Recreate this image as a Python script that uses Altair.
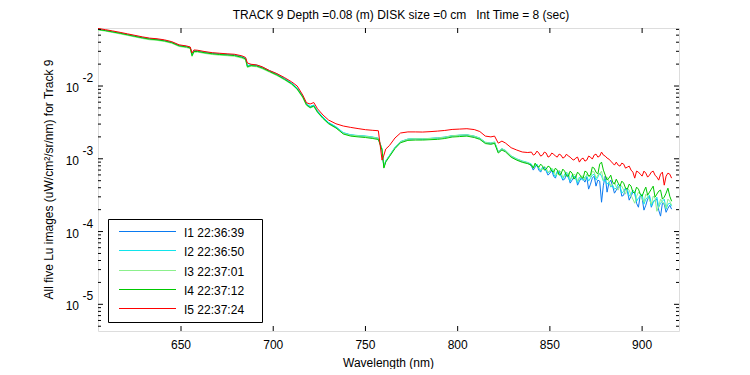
import altair as alt
import pandas as pd

FONT = "Liberation Sans"

# ---------------- data ----------------
wavelength = [605, 609, 613, 617, 621, 625, 629, 633, 637, 641, 645, 649, 653, 655, 656,
              657, 659, 663, 667, 671, 675, 679, 683, 685, 686, 688, 691, 694, 698, 702,
              706, 710, 713, 716, 718, 720, 722, 724, 727, 730, 734, 738, 742, 746, 750,
              754, 757, 759, 760, 761, 763, 766, 769, 773, 777, 781, 785, 789, 793, 797,
              801, 805, 809, 812, 815, 818, 820, 822, 824, 826, 829, 832, 835, 838] + list(range(840, 917))

i1 = [0.0601, 0.0579, 0.0556, 0.0534, 0.0508, 0.0486, 0.0462, 0.0446, 0.0436, 0.0420,
      0.0398, 0.0360, 0.0349, 0.0337, 0.0266, 0.0303, 0.0302, 0.0291, 0.0281, 0.0276,
      0.0271, 0.0267, 0.0252, 0.0240, 0.0188, 0.0195, 0.0192, 0.0180, 0.0161, 0.0145,
      0.0127, 0.0109, 0.00930, 0.00722, 0.00566, 0.00519, 0.00542, 0.00450, 0.00368, 0.00312,
      0.00272, 0.00226, 0.00212, 0.00207, 0.00203, 0.00197, 0.00190, 0.00135, 0.000770, 0.000925,
      0.00110, 0.00142, 0.00171, 0.00185, 0.00188, 0.00186, 0.00190, 0.00192, 0.00197, 0.00206,
      0.00210, 0.00212, 0.00203, 0.00190, 0.00167, 0.00162, 0.00168, 0.00124, 0.00136, 0.00128,
      0.00108, 0.000985, 0.000918, 0.000874,
      7.93e-4, 6.99e-4, 7.68e-4, 8.19e-4, 6.99e-4, 6.56e-4, 7.44e-4, 7.68e-4, 6.77e-4, 5.96e-4,
      6.35e-4, 6.99e-4, 5.78e-4, 5.42e-4, 6.56e-4, 6.77e-4, 5.96e-4, 5.09e-4, 5.25e-4, 6.15e-4,
      5.78e-4, 4.63e-4, 5.09e-4, 5.60e-4, 5.78e-4, 4.34e-4, 4.93e-4, 5.42e-4, 5.25e-4, 4.78e-4,
      5.60e-4, 3.83e-4, 4.48e-4, 5.42e-4, 5.78e-4, 4.21e-4, 5.09e-4, 4.93e-4, 2.53e-4, 4.34e-4,
      5.78e-4, 3.48e-4, 4.63e-4, 5.09e-4, 4.21e-4, 3.37e-4, 3.71e-4, 4.08e-4, 4.21e-4, 3.06e-4,
      3.16e-4, 3.95e-4, 3.59e-4, 2.70e-4, 3.06e-4, 3.48e-4, 3.37e-4, 2.45e-4, 2.16e-4, 3.16e-4,
      2.88e-4, 1.97e-4, 2.30e-4, 2.79e-4, 3.06e-4, 2.16e-4, 2.53e-4, 2.70e-4, 2.79e-4, 1.97e-4,
      1.63e-4, 2.45e-4, 2.38e-4, 1.84e-4, 2.09e-4, 2.30e-4, 2.03e-4]

i2 = [0.0603, 0.0582, 0.0558, 0.0536, 0.0511, 0.0489, 0.0466, 0.0449, 0.0439, 0.0423,
      0.0401, 0.0363, 0.0351, 0.0339, 0.0268, 0.0306, 0.0305, 0.0293, 0.0283, 0.0278,
      0.0273, 0.0269, 0.0254, 0.0242, 0.0190, 0.0197, 0.0194, 0.0182, 0.0163, 0.0147,
      0.0128, 0.0110, 0.00940, 0.00730, 0.00572, 0.00524, 0.00548, 0.00455, 0.00373, 0.00316,
      0.00276, 0.00229, 0.00214, 0.00209, 0.00206, 0.00199, 0.00192, 0.00137, 0.000780, 0.000935,
      0.00111, 0.00144, 0.00173, 0.00187, 0.00190, 0.00188, 0.00191, 0.00194, 0.00199, 0.00208,
      0.00211, 0.00214, 0.00205, 0.00193, 0.00169, 0.00165, 0.00170, 0.00126, 0.00138, 0.00130,
      0.00110, 0.00100, 0.000935, 0.000890,
      8.45e-4, 7.44e-4, 7.93e-4, 8.45e-4, 7.44e-4, 6.77e-4, 7.68e-4, 7.21e-4, 6.99e-4, 6.35e-4,
      6.77e-4, 7.44e-4, 6.15e-4, 5.60e-4, 6.77e-4, 6.35e-4, 5.78e-4, 5.25e-4, 6.15e-4, 6.56e-4,
      5.42e-4, 4.93e-4, 5.96e-4, 5.78e-4, 5.25e-4, 4.63e-4, 5.60e-4, 5.25e-4, 5.09e-4, 5.60e-4,
      5.78e-4, 4.93e-4, 5.42e-4, 5.96e-4, 6.15e-4, 5.09e-4, 5.60e-4, 6.35e-4, 5.78e-4, 4.93e-4,
      5.09e-4, 4.48e-4, 4.78e-4, 4.08e-4, 4.34e-4, 3.83e-4, 3.95e-4, 4.48e-4, 4.21e-4, 3.37e-4,
      3.59e-4, 3.95e-4, 3.83e-4, 3.06e-4, 3.27e-4, 3.71e-4, 3.48e-4, 2.61e-4, 2.88e-4, 3.06e-4,
      3.27e-4, 2.38e-4, 2.79e-4, 2.97e-4, 3.16e-4, 2.23e-4, 2.61e-4, 2.70e-4, 2.97e-4, 2.16e-4,
      2.45e-4, 2.61e-4, 2.79e-4, 2.03e-4, 2.38e-4, 2.45e-4, 2.23e-4]

i3 = [0.0590, 0.0568, 0.0544, 0.0520, 0.0496, 0.0472, 0.0450, 0.0432, 0.0424, 0.0409,
      0.0386, 0.0349, 0.0337, 0.0326, 0.0255, 0.0291, 0.0292, 0.0280, 0.0271, 0.0265,
      0.0261, 0.0256, 0.0242, 0.0229, 0.0180, 0.0187, 0.0184, 0.0173, 0.0155, 0.0139,
      0.0122, 0.0105, 0.00893, 0.00695, 0.00542, 0.00498, 0.00522, 0.00432, 0.00355, 0.00301,
      0.00264, 0.00224, 0.00211, 0.00207, 0.00203, 0.00197, 0.00191, 0.00136, 0.000765, 0.000920,
      0.00109, 0.00142, 0.00171, 0.00186, 0.00189, 0.00188, 0.00190, 0.00193, 0.00198, 0.00207,
      0.00211, 0.00213, 0.00204, 0.00191, 0.00168, 0.00164, 0.00169, 0.00125, 0.00137, 0.00129,
      0.00109, 0.000990, 0.000925, 0.000880,
      8.19e-4, 7.44e-4, 8.45e-4, 7.93e-4, 7.68e-4, 6.99e-4, 7.21e-4, 7.93e-4, 7.44e-4, 6.56e-4,
      6.77e-4, 7.44e-4, 6.99e-4, 5.96e-4, 6.15e-4, 6.99e-4, 6.56e-4, 5.60e-4, 5.78e-4, 6.35e-4,
      6.35e-4, 5.25e-4, 5.60e-4, 6.15e-4, 5.96e-4, 4.93e-4, 5.25e-4, 5.78e-4, 5.78e-4, 5.09e-4,
      6.15e-4, 5.78e-4, 5.60e-4, 6.77e-4, 6.56e-4, 5.42e-4, 5.96e-4, 6.15e-4, 6.77e-4, 5.09e-4,
      5.42e-4, 5.60e-4, 4.93e-4, 4.21e-4, 4.48e-4, 4.78e-4, 4.08e-4, 3.71e-4, 4.34e-4, 4.21e-4,
      3.71e-4, 3.27e-4, 3.95e-4, 3.71e-4, 3.16e-4, 2.79e-4, 2.45e-4, 3.06e-4, 3.48e-4, 3.27e-4,
      2.79e-4, 2.53e-4, 3.27e-4, 3.06e-4, 2.70e-4, 2.38e-4, 3.06e-4, 2.88e-4, 1.90e-4, 2.23e-4,
      2.79e-4, 2.53e-4, 2.45e-4, 2.09e-4, 2.79e-4, 2.61e-4, 2.30e-4]

i4 = [0.0598, 0.0577, 0.0553, 0.0530, 0.0505, 0.0481, 0.0459, 0.0441, 0.0432, 0.0417,
      0.0394, 0.0356, 0.0344, 0.0333, 0.0261, 0.0298, 0.0298, 0.0286, 0.0277, 0.0271,
      0.0267, 0.0262, 0.0248, 0.0235, 0.0184, 0.0191, 0.0188, 0.0177, 0.0158, 0.0142,
      0.0124, 0.0107, 0.00910, 0.00706, 0.00551, 0.00506, 0.00531, 0.00439, 0.00360, 0.00305,
      0.00266, 0.00219, 0.00205, 0.00200, 0.00196, 0.00190, 0.00184, 0.00132, 0.000745, 0.000901,
      0.00107, 0.00138, 0.00166, 0.00179, 0.00181, 0.00181, 0.00183, 0.00185, 0.00190, 0.00199,
      0.00202, 0.00205, 0.00196, 0.00185, 0.00162, 0.00158, 0.00163, 0.00120, 0.00132, 0.00124,
      0.00105, 0.000959, 0.000895, 0.000857,
      8.19e-4, 7.44e-4, 8.72e-4, 7.93e-4, 7.68e-4, 8.45e-4, 7.93e-4, 6.99e-4, 7.21e-4, 7.93e-4,
      7.68e-4, 6.77e-4, 6.56e-4, 7.44e-4, 6.99e-4, 5.96e-4, 6.15e-4, 7.21e-4, 6.77e-4, 5.78e-4,
      5.78e-4, 6.77e-4, 6.35e-4, 5.25e-4, 5.60e-4, 6.56e-4, 6.15e-4, 5.60e-4, 5.42e-4, 6.77e-4,
      6.56e-4, 5.78e-4, 5.96e-4, 7.68e-4, 7.44e-4, 6.56e-4, 6.15e-4, 8.45e-4, 9.00e-4, 6.99e-4,
      5.96e-4, 5.09e-4, 5.42e-4, 5.96e-4, 4.78e-4, 4.48e-4, 5.25e-4, 4.63e-4, 4.21e-4, 4.93e-4,
      4.63e-4, 3.95e-4, 3.83e-4, 4.48e-4, 4.21e-4, 3.48e-4, 3.37e-4, 4.08e-4, 3.83e-4, 3.27e-4,
      3.06e-4, 3.59e-4, 4.08e-4, 3.16e-4, 3.48e-4, 3.83e-4, 4.21e-4, 2.97e-4, 3.27e-4, 3.59e-4,
      3.71e-4, 2.79e-4, 2.97e-4, 3.37e-4, 3.95e-4, 3.06e-4, 2.61e-4]

i5 = [0.0618, 0.0595, 0.0571, 0.0546, 0.0521, 0.0497, 0.0474, 0.0455, 0.0446, 0.0431,
      0.0407, 0.0368, 0.0355, 0.0344, 0.0284, 0.0313, 0.0310, 0.0297, 0.0287, 0.0282,
      0.0277, 0.0273, 0.0260, 0.0247, 0.0207, 0.0199, 0.0195, 0.0184, 0.0163, 0.0148,
      0.0131, 0.0114, 0.0100, 0.00752, 0.00589, 0.00566, 0.00593, 0.00487, 0.00399, 0.00341,
      0.00303, 0.00282, 0.00270, 0.00260, 0.00251, 0.00246, 0.00243, 0.000959, 0.00112, 0.00136,
      0.00152, 0.00193, 0.00226, 0.00234, 0.00234, 0.00233, 0.00236, 0.00240, 0.00245, 0.00253,
      0.00256, 0.00259, 0.00252, 0.00237, 0.00205, 0.00200, 0.00205, 0.00164, 0.00175, 0.00164,
      0.00142, 0.00132, 0.00124, 0.00122,
      12.36e-4, 11.24e-4, 11.60e-4, 12.76e-4, 11.98e-4, 10.89e-4, 11.24e-4, 12.36e-4, 11.98e-4, 10.55e-4,
      10.89e-4, 11.98e-4, 11.60e-4, 10.89e-4, 10.55e-4, 11.60e-4, 11.24e-4, 10.22e-4, 10.55e-4, 11.60e-4,
      10.89e-4, 10.55e-4, 9.90e-4, 9.59e-4, 10.22e-4, 10.55e-4, 9.00e-4, 9.90e-4, 10.22e-4, 9.29e-4,
      9.59e-4, 10.89e-4, 10.55e-4, 9.90e-4, 11.24e-4, 11.60e-4, 10.55e-4, 10.89e-4, 12.36e-4, 11.24e-4,
      10.89e-4, 10.22e-4, 9.90e-4, 9.29e-4, 8.72e-4, 8.19e-4, 9.00e-4, 8.19e-4, 7.93e-4, 8.72e-4,
      8.45e-4, 7.44e-4, 7.68e-4, 7.93e-4, 6.99e-4, 6.56e-4, 5.42e-4, 6.77e-4, 6.56e-4, 6.15e-4,
      5.78e-4, 6.77e-4, 6.35e-4, 5.60e-4, 5.96e-4, 6.56e-4, 6.77e-4, 5.96e-4, 5.60e-4, 5.09e-4,
      6.15e-4, 6.56e-4, 4.34e-4, 5.78e-4, 6.35e-4, 6.15e-4, 5.42e-4]

series_names = ["I1 22:36:39", "I2 22:36:50", "I3 22:37:01", "I4 22:37:12", "I5 22:37:24"]
series_colors = ["#0a7af0", "#10e4ec", "#8cf08c", "#00c800", "#ff0000"]

x_ticks = [650, 700, 750, 800, 850, 900]
x_tick_labels = ["650", "700", "750", "800", "850", "900"]
y_decades = [1e-5, 1e-4, 1e-3, 1e-2]
y_exponents = ["-5", "-4", "-3", "-2"]
y_minor = [5e-6, 6e-6, 7e-6, 8e-6, 9e-6,
           2e-5, 3e-5, 4e-5, 5e-5, 6e-5, 7e-5, 8e-5, 9e-5,
           2e-4, 3e-4, 4e-4, 5e-4, 6e-4, 7e-4, 8e-4, 9e-4,
           2e-3, 3e-3, 4e-3, 5e-3, 6e-3, 7e-3, 8e-3, 9e-3,
           2e-2, 3e-2, 4e-2, 5e-2, 6e-2]

title_text = "TRACK 9 Depth =0.08 (m) DISK size =0 cm\u00a0\u00a0\u00a0Int Time = 8 (sec)"
y_title = "All five Lu images (uW/cm\u00b2/sr/nm) for Track 9"
x_title = "Wavelength (nm)"

# ---------------- layout ----------------
W, H = 581, 303
X_DOMAIN = [605, 920]
Y_DOMAIN = [4.3e-6, 0.0627]

rows = []
for name, vals in zip(series_names, [i1, i2, i3, i4, i5]):
    for w, v in zip(wavelength, vals):
        rows.append({"wl": w, "val": v, "series": name})
df = pd.DataFrame(rows)

xs = alt.Scale(domain=X_DOMAIN, nice=False, zero=False)
ys = alt.Scale(type="log", domain=Y_DOMAIN, nice=False)
cs = alt.Scale(domain=series_names, range=series_colors)

X = alt.X("wl:Q", scale=xs, axis=None)
Yv = alt.Y("v:Q", scale=ys, axis=None)

lines = alt.Chart(df).mark_line(strokeWidth=1, clip=True).encode(
    x=X,
    y=alt.Y("val:Q", scale=ys, axis=None),
    color=alt.Color("series:N", scale=cs, legend=None),
)

xt = pd.DataFrame({"wl": x_ticks, "lab": x_tick_labels})
xtop = alt.Chart(xt).mark_rule(color="black", strokeWidth=1).encode(
    x=X, y=alt.value(0), y2=alt.value(5))
xbot = alt.Chart(xt).mark_rule(color="black", strokeWidth=1).encode(
    x=X, y=alt.value(H - 5), y2=alt.value(H))
xlabels = alt.Chart(xt).mark_text(align="center", baseline="middle", font=FONT,
                                  fontSize=12, color="black").encode(
    x=X, y=alt.value(H + 14), text="lab:N")

yt = pd.DataFrame({"v": y_decades, "base": ["10"] * len(y_decades), "exp": y_exponents})
ym = pd.DataFrame({"v": y_minor})
yl_major = alt.Chart(yt).mark_rule(color="black", strokeWidth=1).encode(
    y=Yv, x=alt.value(0), x2=alt.value(5))
yr_major = alt.Chart(yt).mark_rule(color="black", strokeWidth=1).encode(
    y=Yv, x=alt.value(W - 5), x2=alt.value(W))
yl_minor = alt.Chart(ym).mark_rule(color="black", strokeWidth=1).encode(
    y=Yv, x=alt.value(0), x2=alt.value(3))
yr_minor = alt.Chart(ym).mark_rule(color="black", strokeWidth=1).encode(
    y=Yv, x=alt.value(W - 3), x2=alt.value(W))

ybase = alt.Chart(yt).mark_text(align="right", baseline="alphabetic", dy=6, font=FONT,
                                fontSize=12, color="black").encode(
    y=Yv, x=alt.value(-19), text="base:N")
yexp = alt.Chart(yt).mark_text(align="left", baseline="alphabetic", dy=-4, font=FONT,
                               fontSize=12, color="black").encode(
    y=Yv, x=alt.value(-15.5), text="exp:N")

ytitle = alt.Chart(pd.DataFrame({"t": [y_title]})).mark_text(
    angle=270, align="center", baseline="middle", font=FONT, fontSize=12, color="black").encode(
    x=alt.value(-49.5), y=alt.value(H / 2), text="t:N")

xtitle = alt.Chart(pd.DataFrame({"t": [x_title]})).mark_text(
    align="center", baseline="middle", font=FONT, fontSize=12, color="black").encode(
    x=alt.value(W / 2), y=alt.value(H + 32), text="t:N")

mtitle = alt.Chart(pd.DataFrame({"t": [title_text]})).mark_text(
    align="center", baseline="middle", font=FONT, fontSize=12, color="black").encode(
    x=alt.value(303), y=alt.value(-13.5), text="t:N")

# legend (guide)
legend_df = pd.DataFrame({
    "series": series_names,
    "ly": [203.5, 222.5, 242.5, 261.5, 280.5],
})
leg_box = alt.Chart(pd.DataFrame({"a": [0]})).mark_rect(
    fill="white", stroke="black", strokeWidth=1).encode(
    x=alt.value(10.5), x2=alt.value(164.5), y=alt.value(191.5), y2=alt.value(294.5))
leg_lines = alt.Chart(legend_df).mark_rule(strokeWidth=1).encode(
    x=alt.value(21), x2=alt.value(78), y=alt.Y("ly:Q", scale=None, axis=None),
    color=alt.Color("series:N", scale=cs, legend=None))
leg_text = alt.Chart(legend_df).mark_text(
    align="left", baseline="middle", dy=1, font=FONT, fontSize=12, color="black").encode(
    x=alt.value(86), y=alt.Y("ly:Q", scale=None, axis=None), text="series:N")

chart = alt.layer(
    lines, xtop, xbot, yl_major, yr_major, yl_minor, yr_minor, xlabels,
    leg_box, leg_lines, leg_text, ybase, yexp, ytitle, xtitle, mtitle
).properties(
    width=W, height=H,
    autosize=alt.AutoSizeParams(type="none"),
    padding={"left": 90, "top": 20, "right": 63, "bottom": 38},
).configure_view(stroke="black", strokeWidth=1).configure(background="white")

chart.save("out.html", embed_options={"renderer": "svg", "actions": False})
